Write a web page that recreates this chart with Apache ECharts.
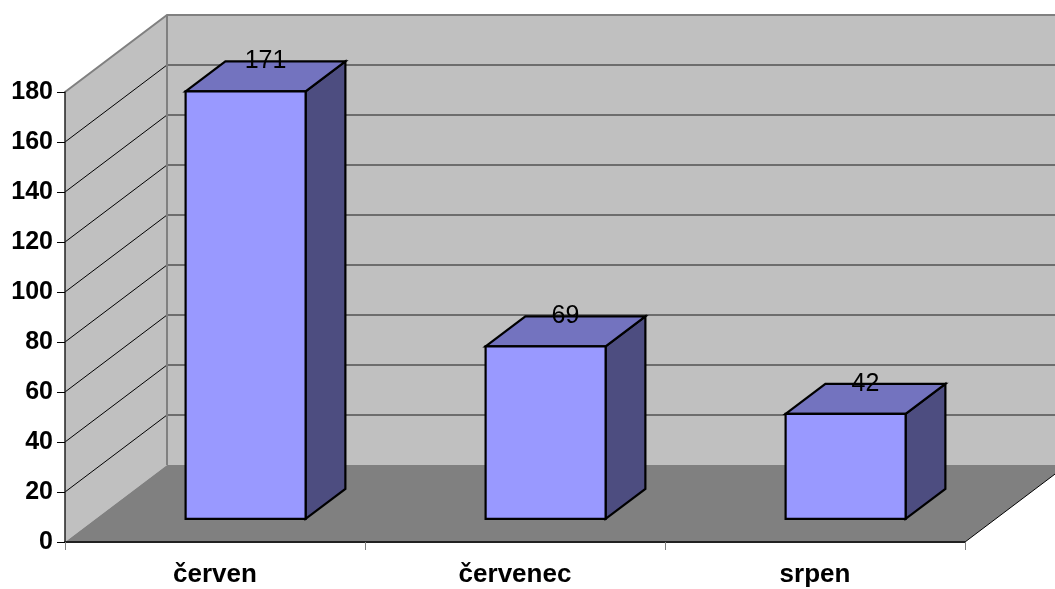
<!DOCTYPE html>
<html>
<head>
<meta charset="utf-8">
<title>Měsíce</title>
<script src="https://cdn.jsdelivr.net/npm/echarts@6/dist/echarts.min.js"></script>
<style>
  html, body { margin: 0; padding: 0; background: #ffffff; }
  #chart { width: 1055px; height: 589px; }
</style>
</head>
<body>
<div id="chart"></div>
<script>
// Data
const categories = ['červen', 'červenec', 'srpen'];
const values = [171, 69, 42];
const Y_MIN = 0;
const Y_MAX = 180;
const Y_STEP = 20;

// Oblique depth of the box (pixels) and bar placement inside it
const DX = 102, DY = -77;
const BAR_FRONT = 0.3;   // where the bar's front face sits along the depth
const BAR_DEPTH = 0.39;  // bar depth as a fraction of the full depth
const BAR_WIDTH = 0.4;   // bar width as a fraction of the category band

const FONT = 'Arial, "Liberation Sans", sans-serif';

const chart = echarts.init(document.getElementById('chart'));

function renderWalls(params, api) {
  const band = api.size([1, 0])[0];
  const first = api.coord([0, Y_MIN]);
  const last = api.coord([categories.length - 1, Y_MIN]);
  const L = first[0] - band / 2;
  const R = last[0] + band / 2;
  const y0 = first[1];
  const yTop = api.coord([0, Y_MAX])[1];
  const children = [];

  // side wall
  children.push({ type: 'polygon', shape: { points: [[L, y0], [L, yTop], [L + DX, yTop + DY], [L + DX, y0 + DY]] },
    style: { fill: '#c0c0c0' } });
  // back wall
  children.push({ type: 'polygon', shape: { points: [[L + DX, yTop + DY], [R + DX, yTop + DY], [R + DX, y0 + DY], [L + DX, y0 + DY]] },
    style: { fill: '#c0c0c0' } });
  // floor
  children.push({ type: 'polygon', shape: { points: [[L, y0], [L + DX, y0 + DY], [R + DX, y0 + DY], [R, y0]] },
    style: { fill: '#808080' } });

  // gridlines on both walls
  for (let v = Y_MIN + Y_STEP; v < Y_MAX; v += Y_STEP) {
    const y = api.coord([0, v])[1];
    children.push({ type: 'line', shape: { x1: L, y1: y, x2: L + DX, y2: y + DY },
      style: { stroke: '#000000', lineWidth: 1 } });
    children.push({ type: 'line', shape: { x1: L + DX, y1: y + DY, x2: R + DX, y2: y + DY },
      style: { stroke: '#1a1a1a', lineWidth: 1.2 } });
  }

  // wall outlines
  children.push({ type: 'polyline', shape: { points: [[L, yTop], [L + DX, yTop + DY], [R + DX + 20, yTop + DY]] },
    style: { stroke: '#808080', lineWidth: 2, fill: null } });
  children.push({ type: 'line', shape: { x1: L + DX, y1: yTop + DY, x2: L + DX, y2: y0 + DY },
    style: { stroke: '#808080', lineWidth: 2 } });
  // floor right edge
  children.push({ type: 'line', shape: { x1: R, y1: y0, x2: R + DX, y2: y0 + DY },
    style: { stroke: '#000000', lineWidth: 1 } });

  return { type: 'group', children: children };
}

function renderBar(params, api) {
  const idx = api.value(0);
  const v = api.value(1);
  const band = api.size([1, 0])[0];
  const top = api.coord([idx, v]);
  const base = api.coord([idx, Y_MIN]);
  const w = band * BAR_WIDTH;
  const sx = DX * BAR_FRONT, sy = DY * BAR_FRONT;
  const bx = DX * BAR_DEPTH, by = DY * BAR_DEPTH;
  const xl = top[0] + sx - w / 2;
  const xr = top[0] + sx + w / 2;
  const yt = top[1] + sy;
  const yb = base[1] + sy;
  const edge = { stroke: '#000000', lineWidth: 2.2, lineJoin: 'miter' };

  return {
    type: 'group',
    children: [
      { type: 'polygon', shape: { points: [[xr, yt], [xr, yb], [xr + bx, yb + by], [xr + bx, yt + by]] },
        style: Object.assign({ fill: '#4d4d80' }, edge) },
      { type: 'polygon', shape: { points: [[xl, yt], [xr, yt], [xr + bx, yt + by], [xl + bx, yt + by]] },
        style: Object.assign({ fill: '#7373bf' }, edge) },
      { type: 'polygon', shape: { points: [[xl, yt], [xr, yt], [xr, yb], [xl, yb]] },
        style: Object.assign({ fill: '#9999ff' }, edge) },
      { type: 'text', style: {
          text: String(v), x: (xl + xr) / 2 + bx / 2, y: yt + by,
          align: 'center', verticalAlign: 'middle',
          fontSize: 25, fontFamily: FONT, fill: '#000000' } }
    ]
  };
}

chart.setOption({
  animation: false,
  backgroundColor: '#ffffff',
  grid: { left: 65, right: 90, top: 92, bottom: 47, containLabel: false },
  xAxis: {
    type: 'category',
    data: categories,
    z: 10,
    axisLine: { show: true, lineStyle: { color: '#222222', width: 2 } },
    axisTick: { show: true, length: 8, lineStyle: { color: '#808080', width: 1 } },
    axisLabel: { margin: 20, fontSize: 26, fontWeight: 'bold', color: '#000000', fontFamily: FONT },
    splitLine: { show: false }
  },
  yAxis: {
    type: 'value',
    min: Y_MIN, max: Y_MAX, interval: Y_STEP,
    z: 10,
    axisLine: { show: true, lineStyle: { color: '#222222', width: 1.5 } },
    axisTick: { show: true, length: 8, lineStyle: { color: '#000000', width: 1 } },
    axisLabel: { margin: 12, fontSize: 25, fontWeight: 'bold', color: '#000000', fontFamily: FONT },
    splitLine: { show: false }
  },
  series: [
    { type: 'custom', name: 'walls', z: 1, silent: true, renderItem: renderWalls, data: [[0, 0]], encode: { x: 0, y: 1 } },
    { type: 'custom', name: 'hodnoty', z: 3, renderItem: renderBar,
      data: values.map((v, i) => [i, v]), encode: { x: 0, y: 1 } }
  ]
});
</script>
</body>
</html>
